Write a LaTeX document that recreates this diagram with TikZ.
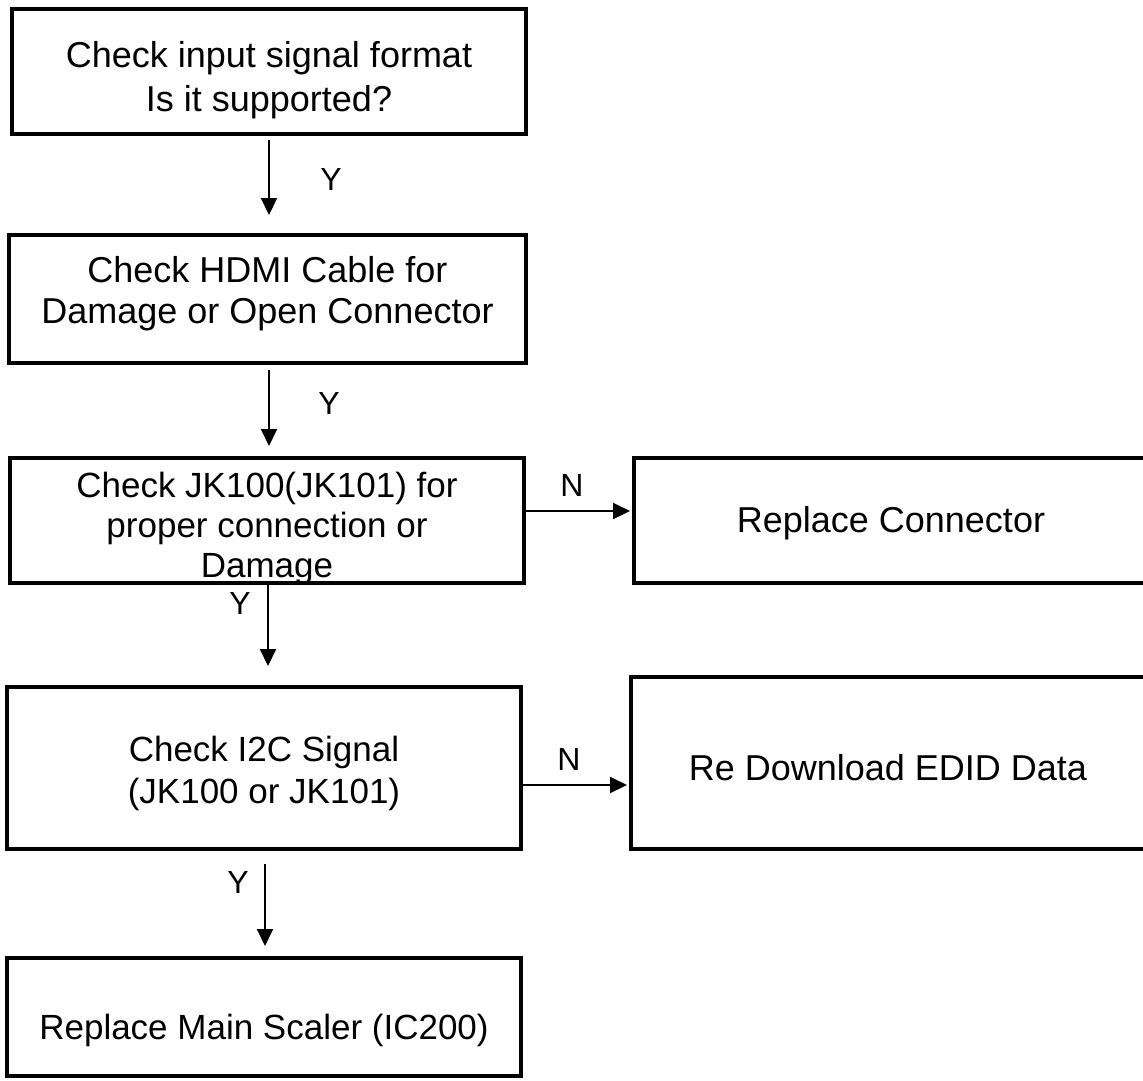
\documentclass[tikz,border=0pt]{standalone}
\usepackage{fontspec}
\setmainfont{Liberation Sans}
\usetikzlibrary{arrows.meta,calc}
\begin{document}
\begin{tikzpicture}[x=1pt,y=-1pt,
  box/.style={draw=black, line width=4pt, inner sep=0pt, fill=white},
  txt/.style={align=center, inner sep=0pt, font=\fontsize{36}{44}\selectfont},
  txtn/.style={align=center, inner sep=0pt, font=\fontsize{35}{40}\selectfont},
  lbl/.style={inner sep=0pt, font=\fontsize{32}{38}\selectfont},
  arr/.style={line width=2pt, -{Triangle[length=17pt,width=16pt]}}]

\useasboundingbox (0,0) rectangle (1143,1080);
\clip (0,0) rectangle (1143,1080);

% step boxes
\node[box, minimum width=514pt, minimum height=125pt] (b1) at (269,71.5) {};
\node[box, minimum width=517pt, minimum height=128pt] (b2) at (267.5,299) {};
\node[box, minimum width=514pt, minimum height=125pt] (b3) at (267,520.5) {};
\node[box, minimum width=512pt, minimum height=125pt] (b4) at (890,520.5) {};
\node[box, minimum width=514pt, minimum height=162pt] (b5) at (264,768) {};
\node[box, minimum width=515pt, minimum height=172pt] (b6) at (888.5,763) {};
\node[box, minimum width=514pt, minimum height=118pt] (b7) at (264,1017) {};

% box texts
\node[txt] (t1) at (269,80) {Check input signal format\\Is it supported?};
\node[txt, font=\fontsize{36}{41}\selectfont] (t2) at (267.5,294) {Check HDMI Cable for\\Damage or Open Connector};
\node[txtn] (t3) at (267,528) {Check JK100(JK101) for\\proper connection or\\Damage};
\node[txt] (t4) at (891,523) {Replace Connector};
\node[txtn, font=\fontsize{35}{42}\selectfont] (t5) at (264,773) {Check I2C Signal\\(JK100 or JK101)};
\node[txt] (t6) at (888,768) {Re Download EDID Data};
\node[txtn] (t7) at (264,1030) {Replace Main Scaler (IC200)};

% connectors
\draw[arr, shorten <=4pt, shorten >=18pt] (b1.south) -- (b1.south |- b2.north);
\draw[arr, shorten <=5pt, shorten >=10pt] ([xshift=1.5pt]b2.south) -- ([xshift=1.5pt]b2.south |- b3.north);
\draw[arr, shorten >=19pt] ([xshift=1pt]b3.south) -- ([xshift=1pt]b3.south |- b5.north);
\draw[arr, shorten <=13pt, shorten >=10pt] ([xshift=1pt]b5.south) -- ([xshift=1pt]b5.south |- b7.north);
\draw[arr, shorten >=2pt] ([yshift=9.5pt]b3.east) -- ([yshift=9.5pt]b3.east -| b4.west);
\draw[arr, shorten >=2pt] ([yshift=-17pt]b5.east) -- ([yshift=-17pt]b5.east -| b6.west);

% branch labels
\node[lbl] (y1) at (331,179) {Y};
\node[lbl] (y2) at (329,403) {Y};
\node[lbl] (y3) at (240,603) {Y};
\node[lbl] (y4) at (238,882) {Y};
\node[lbl] (n1) at (572,485) {N};
\node[lbl] (n2) at (569,759) {N};
\end{tikzpicture}
\end{document}
